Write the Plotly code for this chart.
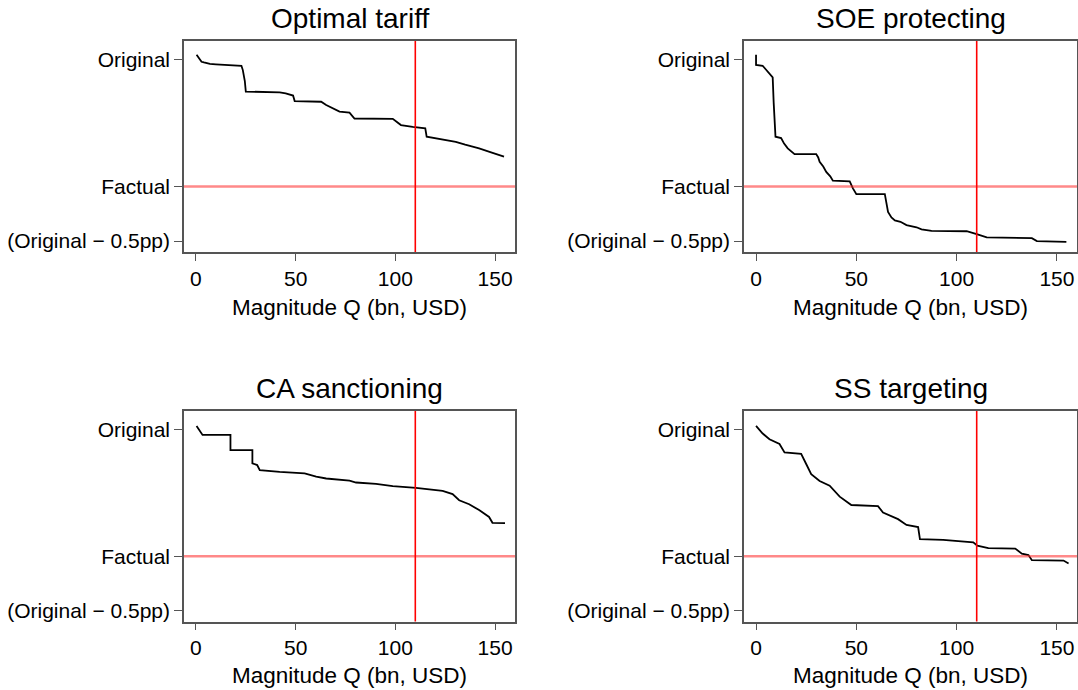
import plotly.graph_objects as go

# ---- data ----
titles = ["Optimal tariff", "SOE protecting", "CA sanctioning", "SS targeting"]
y_tick_vals = [0.0, -0.35, -0.5]
y_tick_text = ["Original", "Factual", "(Original \u2212 0.5pp)"]
x_tick_vals = [0, 50, 100, 150]
x_title = "Magnitude Q (bn, USD)"
factual_level = -0.35
q_reference = 110

q_opt = [0.3, 1.5, 2.8, 4, 7, 10, 15, 22.8, 23.5, 24.5, 25, 40.3, 42, 45, 48.7, 49.5,
         62.8, 65.3, 68.7, 72, 77, 78.7, 79.5, 98.7, 101.2, 102.8, 108.7, 115, 115.7,
         120, 125, 130.3, 135, 142, 148, 154.5]
v_opt = [0.012, 0.003, -0.007, -0.009, -0.013, -0.014, -0.015, -0.018, -0.03, -0.06, -0.089,
         -0.089, -0.091, -0.094, -0.1, -0.115, -0.117, -0.126, -0.135, -0.144, -0.147, -0.158,
         -0.163, -0.164, -0.174, -0.181, -0.186, -0.19, -0.213, -0.217, -0.221, -0.227, -0.235,
         -0.245, -0.256, -0.268]

q_soe = [0, 0, 3.3, 5, 7.5, 8.3, 8.8, 9.7, 12.5, 14, 15.8, 19.2, 30, 31, 31.7, 33.5, 35, 37,
         38.3, 46.7, 48.3, 50, 64.2, 65, 65.8, 67.5, 69.2, 72, 75, 80, 82.5, 87.5, 105, 110,
         115, 137.5, 140, 154.7]
v_soe = [0.012, -0.016, -0.018, -0.029, -0.043, -0.05, -0.12, -0.213, -0.217, -0.232, -0.245,
         -0.261, -0.261, -0.27, -0.282, -0.295, -0.31, -0.322, -0.334, -0.336, -0.355, -0.371,
         -0.371, -0.4, -0.42, -0.435, -0.443, -0.447, -0.456, -0.462, -0.468, -0.472, -0.473,
         -0.481, -0.49, -0.492, -0.5, -0.502]

q_ca = [0.3, 3.3, 17.3, 17.3, 28.3, 28.3, 30.7, 32, 42, 54.5, 60.3, 65.3, 77, 80.3, 90.3,
        98.7, 110.3, 123.7, 128.7, 132, 137, 142, 147, 148.7, 155]
v_ca = [0.009, -0.016, -0.016, -0.058, -0.058, -0.094, -0.099, -0.113, -0.118, -0.122, -0.131,
        -0.136, -0.142, -0.147, -0.151, -0.157, -0.162, -0.17, -0.179, -0.196, -0.207, -0.223,
        -0.242, -0.258, -0.259]

q_ss = [0, 3.3, 6.7, 11.7, 14.2, 22.5, 25, 27.5, 31.7, 36.7, 41.7, 47.5, 60.8, 63.3, 70.8,
        75, 80.8, 81.7, 93.3, 108.3, 110.3, 115.8, 129.2, 132.5, 135.8, 137.5, 153.3, 155.8]
v_ss = [0.009, -0.012, -0.028, -0.041, -0.064, -0.068, -0.096, -0.124, -0.143, -0.156, -0.186,
        -0.209, -0.212, -0.23, -0.248, -0.264, -0.27, -0.303, -0.305, -0.312, -0.321, -0.328,
        -0.329, -0.343, -0.347, -0.361, -0.362, -0.37]

series = [(q_opt, v_opt), (q_soe, v_soe), (q_ca, v_ca), (q_ss, v_ss)]

# ---- layout geometry ----
W, H = 1078, 690


def px_x(p):
    return p / W


def px_y(p):
    return 1 - p / H


x_doms = [(px_x(184), px_x(515)), (px_x(744), px_x(1077))]
y_doms = [(px_y(252), px_y(41)), (px_y(621.5), px_y(411))]
FONT = "Liberation Sans, Arial, sans-serif"
AX = "#555555"

fig = go.Figure()
layout = dict(
    width=W, height=H, margin=dict(l=0, r=0, t=0, b=0),
    paper_bgcolor="white", plot_bgcolor="white", showlegend=False,
    font=dict(family=FONT, color="black", size=21),
)
annotations = []
shapes = []
title_centers_y = [19, 388]
xtitle_centers_y = [307, 675]

for i, (title, (qs, vs)) in enumerate(zip(titles, series)):
    r, c = divmod(i, 2)
    n = "" if i == 0 else str(i + 1)
    xa, ya = "x" + n, "y" + n
    fig.add_trace(go.Scatter(x=qs, y=vs, mode="lines", xaxis=xa, yaxis=ya,
                             line=dict(color="black", width=1.8)))
    layout["xaxis" + n] = dict(
        domain=x_doms[c], anchor=ya, range=[-6, 160], tickvals=x_tick_vals,
        showgrid=False, zeroline=False, showline=True, mirror=True, linecolor=AX,
        linewidth=1.5, ticks="outside", ticklen=7, tickwidth=1.3, tickcolor=AX,
        tickfont=dict(size=21, family=FONT),
    )
    layout["yaxis" + n] = dict(
        domain=y_doms[r], anchor=xa, range=[-0.53, 0.05], tickvals=y_tick_vals,
        ticktext=y_tick_text, showgrid=False, zeroline=False, showline=True,
        mirror=True, linecolor=AX, linewidth=1.5, ticks="outside", ticklen=8,
        tickwidth=1.3, tickcolor=AX, tickfont=dict(size=21, family=FONT),
    )
    # reference lines
    shapes.append(dict(type="line", xref=xa + " domain", yref=ya, x0=0, x1=1,
                       y0=factual_level, y1=factual_level,
                       line=dict(color="rgba(255,40,40,0.55)", width=2.5)))
    shapes.append(dict(type="line", xref=xa, yref=ya + " domain", x0=q_reference,
                       x1=q_reference, y0=0, y1=1, line=dict(color="#ff0000", width=1.6)))
    xc = (x_doms[c][0] + x_doms[c][1]) / 2
    annotations.append(dict(text=title, x=xc, y=px_y(title_centers_y[r]), xref="paper",
                            yref="paper", showarrow=False, xanchor="center", yanchor="middle",
                            font=dict(size=28, family=FONT, color="black")))
    annotations.append(dict(text=x_title, x=xc, y=px_y(xtitle_centers_y[r]), xref="paper",
                            yref="paper", showarrow=False, xanchor="center", yanchor="middle",
                            font=dict(size=22.5, family=FONT, color="black")))

layout["annotations"] = annotations
layout["shapes"] = shapes
fig.update_layout(**layout)
fig.write_html(
    "out.html",
    config={"displayModeBar": False},
    post_script="document.body.style.margin='0';document.body.style.overflow='hidden';",
)
